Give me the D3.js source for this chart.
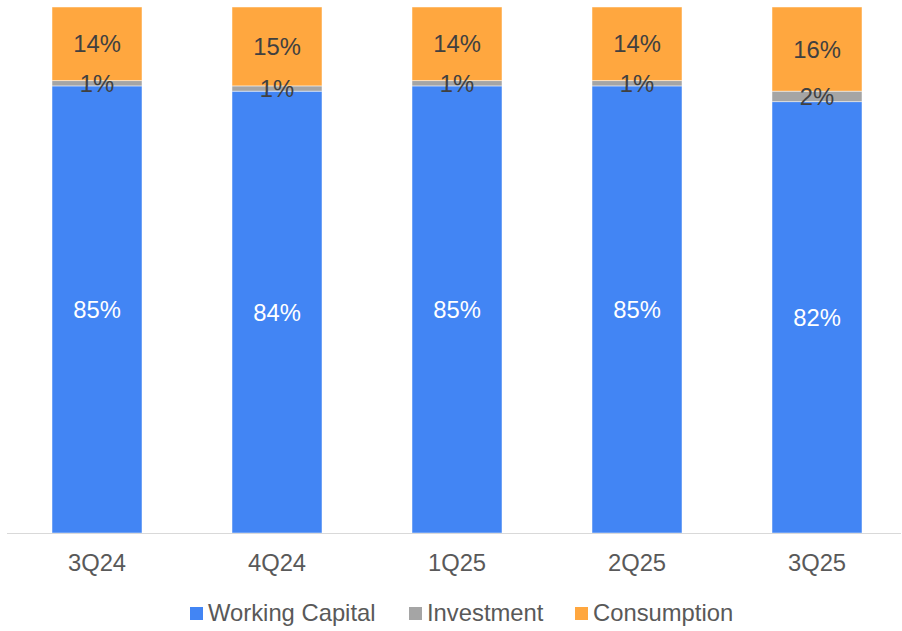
<!DOCTYPE html>
<html>
<head>
<meta charset="utf-8">
<script src="https://cdn.jsdelivr.net/npm/d3@7"></script>
<style>
  html, body { margin: 0; padding: 0; background: #ffffff; }
  svg { display: block; font-family: "Liberation Sans", Arial, sans-serif; }
</style>
</head>
<body>
<svg id="chart" width="902" height="631"></svg>
<script>
// Quarterly mix by purpose, share of total (%)
const quarters = ["3Q24", "4Q24", "1Q25", "2Q25", "3Q25"];
const workingCapital = [85, 84, 85, 85, 82];
const investment = [1, 1, 1, 1, 2];
const consumption = [14, 15, 14, 14, 16];

const seriesNames = ["Working Capital", "Investment", "Consumption"];
const seriesColors = ["#4285F4", "#A5A5A5", "#FFA73F"];
const labelColors = ["#FFFFFF", "#404040", "#404040"];

const rows = quarters.map((q, i) => ({
  quarter: q,
  "Working Capital": workingCapital[i],
  "Investment": investment[i],
  "Consumption": consumption[i]
}));

const svg = d3.select("#chart");

const x = d3.scaleBand().domain(quarters).range([7, 907]).paddingInner(0.5).paddingOuter(0.25);
const y = d3.scaleLinear().domain([0, 100]).range([533, 7]);

const stacked = d3.stack().keys(seriesNames)(rows);

const layers = svg.append("g").selectAll("g")
  .data(stacked)
  .join("g")
  .attr("fill", (d, i) => seriesColors[i]);

layers.selectAll("rect")
  .data(d => d)
  .join("rect")
  .attr("x", d => x(d.data.quarter))
  .attr("width", x.bandwidth())
  .attr("y", d => y(d[1]))
  .attr("height", d => y(d[0]) - y(d[1]))
  .attr("stroke", "#ffffff")
  .attr("stroke-opacity", 0.6)
  .attr("stroke-width", 0.8);

// Baseline
svg.append("line")
  .attr("x1", 7).attr("x2", 901)
  .attr("y1", 533.5).attr("y2", 533.5)
  .attr("stroke", "#D9D9D9")
  .attr("stroke-width", 1.2);

// Value labels centred in each segment
stacked.forEach((layer, si) => {
  svg.append("g").selectAll("text")
    .data(layer)
    .join("text")
    .attr("x", d => x(d.data.quarter) + x.bandwidth() / 2)
    .attr("y", d => (y(d[0]) + y(d[1])) / 2)
    .attr("dy", "0.36em")
    .attr("text-anchor", "middle")
    .attr("font-size", 23.8)
    .attr("fill", labelColors[si])
    .text(d => `${d.data[layer.key]}%`);
});

// Category axis
const xAxis = svg.append("g")
  .attr("transform", "translate(0,533)")
  .call(d3.axisBottom(x).tickSize(0).tickPadding(0));
xAxis.select(".domain").remove();
xAxis.selectAll("text")
  .attr("y", 37.5)
  .attr("dy", 0)
  .attr("font-size", 23.8)
  .attr("font-family", "Liberation Sans, Arial, sans-serif")
  .attr("fill", "#595959");

// Legend
const legendX = [190, 409, 575];
const legend = svg.append("g").selectAll("g")
  .data(seriesNames)
  .join("g")
  .attr("transform", (d, i) => `translate(${legendX[i]},607)`);
legend.append("rect")
  .attr("width", 13).attr("height", 13)
  .attr("fill", (d, i) => seriesColors[i]);
legend.append("text")
  .attr("x", 18)
  .attr("y", 13.7)
  .attr("font-size", 23.8)
  .attr("fill", "#595959")
  .text(d => d);
</script>
</body>
</html>
